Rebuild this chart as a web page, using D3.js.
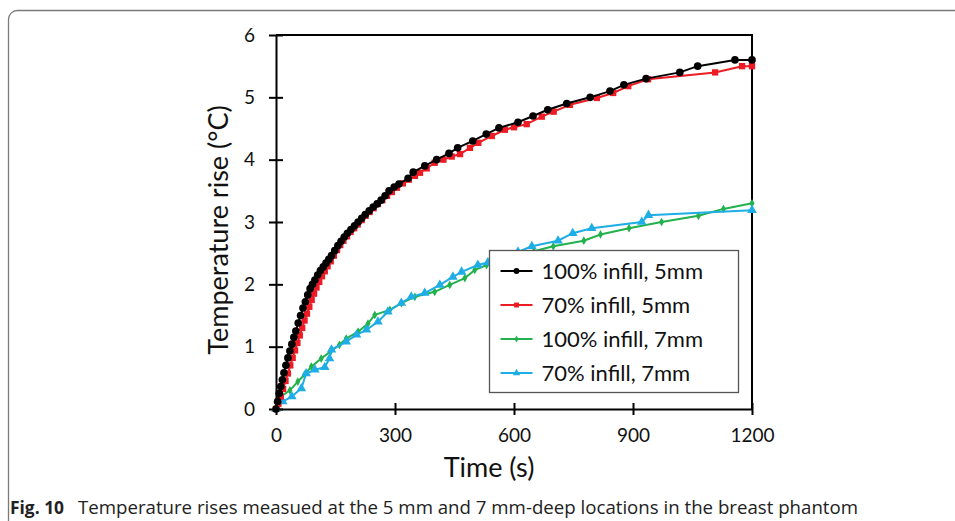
<!DOCTYPE html>
<html>
<head>
<meta charset="utf-8">
<script src="https://cdn.jsdelivr.net/npm/d3@7"></script>
<style>
  body { margin: 0; background: #fff; }
  svg { display: block; }
  .tick text { font-family: Lato, "Open Sans", sans-serif; font-size: 19px; fill: #111; }
</style>
</head>
<body>
<div id="chart"></div>
<script>
// courbes (temps en s, hausse en °C)
const black5Time = [0,4,8,12,16,20,25,30,35,40,45,50,56,62,68,74,80,86,92,98,105,112,119,126,133,140,148,156,164,172,180,189,198,207,216,225,235,245,255,265,275,285,298,310,333,346,375,405,436,458,496,530,562,610,648,685,733,792,842,877,933,1018,1063,1157,1200];
const black5Rise = [0,0.12,0.25,0.36,0.47,0.58,0.7,0.82,0.93,1.04,1.15,1.25,1.38,1.5,1.62,1.72,1.83,1.93,2.0,2.07,2.15,2.22,2.28,2.34,2.4,2.46,2.54,2.62,2.69,2.76,2.82,2.88,2.94,3.0,3.06,3.12,3.18,3.24,3.29,3.35,3.42,3.5,3.56,3.61,3.7,3.8,3.9,4.0,4.1,4.19,4.3,4.41,4.51,4.6,4.7,4.8,4.9,5.0,5.1,5.2,5.3,5.4,5.5,5.6,5.6];

const red5Time = [0,6,12,18,24,30,36,42,48,54,60,66,72,78,84,90,96,102,109,116,123,130,138,146,154,162,170,179,188,197,206,216,226,236,246,257,268,280,292,305,320,335,350,363,380,400,422,443,464,489,510,544,577,600,632,670,700,741,809,850,888,938,1107,1175,1200];
const red5Rise = [0,0.08,0.2,0.32,0.45,0.57,0.7,0.82,0.94,1.06,1.18,1.3,1.42,1.53,1.64,1.75,1.85,1.95,2.04,2.13,2.21,2.29,2.37,2.46,2.55,2.63,2.7,2.77,2.84,2.9,2.96,3.03,3.1,3.16,3.22,3.29,3.35,3.42,3.48,3.55,3.62,3.68,3.74,3.79,3.86,3.95,4.0,4.05,4.09,4.19,4.27,4.38,4.48,4.52,4.57,4.69,4.77,4.88,4.99,5.07,5.18,5.29,5.4,5.5,5.5];

const green7Time = [0,13,35,55,72,89,114,137,160,177,207,232,249,287,316,350,400,438,476,501,531,560,600,650,699,776,818,890,972,1065,1128,1200];
const green7Rise = [0,0.2,0.3,0.44,0.55,0.68,0.81,0.92,1.03,1.13,1.24,1.37,1.51,1.59,1.7,1.8,1.88,1.99,2.1,2.23,2.31,2.38,2.45,2.53,2.61,2.7,2.8,2.9,3.0,3.1,3.21,3.3];

const blue7Time = [0,17,40,64,76,98,123,135,140,177,203,228,257,282,316,341,375,413,446,468,509,534,570,610,645,711,748,796,922,939,1200];
const blue7Rise = [0,0.12,0.2,0.33,0.57,0.63,0.67,0.81,0.95,1.08,1.19,1.27,1.4,1.56,1.7,1.8,1.86,1.99,2.12,2.2,2.31,2.35,2.42,2.52,2.61,2.7,2.82,2.9,3.0,3.11,3.19];

const seriesNames = ["100% infill, 5mm", "70% infill, 5mm", "100% infill, 7mm", "70% infill, 7mm"];
const xTicks = [0, 300, 600, 900, 1200];
const yTicks = [0, 1, 2, 3, 4, 5, 6];

const width = 955;
const height = 521;
const margin = { left: 276, right: 203, top: 35, bottom: 112 };

const series = [
  { name: seriesNames[0], t: black5Time, v: black5Rise, color: "#000000", symbol: d3.symbolCircle, size: 46 },
  { name: seriesNames[1], t: red5Time, v: red5Rise, color: "#ed1c24", symbol: d3.symbolSquare, size: 40 },
  { name: seriesNames[2], t: green7Time, v: green7Rise, color: "#22b14c", symbol: d3.symbolDiamond, size: 22 },
  { name: seriesNames[3], t: blue7Time, v: blue7Rise, color: "#1fade6", symbol: d3.symbolTriangle, size: 40 }
];

const svg = d3.select("#chart").append("svg")
  .attr("width", width)
  .attr("height", height);

// cadre arrondi de la figure
svg.append("rect")
  .attr("x", 8.5).attr("y", 10.5)
  .attr("width", 1100).attr("height", 700)
  .attr("rx", 9)
  .attr("fill", "none")
  .attr("stroke", "#7a7a7a")
  .attr("stroke-width", 1.3);

const x = d3.scaleLinear().domain([0, 1200]).range([margin.left, width - margin.right]);
const y = d3.scaleLinear().domain([0, 6]).range([height - margin.bottom, margin.top]);

// cadre du graphe (haut et droite)
svg.append("path")
  .attr("d", `M${x(0)},${y(6)}H${x(1200)}V${y(0)}`)
  .attr("fill", "none")
  .attr("stroke", "#000")
  .attr("stroke-width", 2);

// axes avec graduations croisées
const xAxis = svg.append("g")
  .attr("transform", `translate(0,${y(0)})`)
  .call(d3.axisBottom(x).tickValues(xTicks).tickFormat(d3.format("d"))
    .tickSizeInner(6).tickSizeOuter(0).tickPadding(14));
xAxis.selectAll(".tick line").attr("y1", -6).attr("stroke-width", 2);
xAxis.select(".domain").attr("stroke-width", 2);

const yAxis = svg.append("g")
  .attr("transform", `translate(${x(0)},0)`)
  .call(d3.axisLeft(y).tickValues(yTicks).tickFormat(d3.format("d"))
    .tickSizeInner(7).tickSizeOuter(0).tickPadding(14));
yAxis.selectAll(".tick line").attr("x1", 7).attr("stroke-width", 2);
yAxis.select(".domain").attr("stroke-width", 2);

// titres des axes
svg.append("text")
  .attr("x", 489).attr("y", 477)
  .attr("text-anchor", "middle")
  .style("font-family", "Lato, 'Open Sans', sans-serif")
  .style("font-size", "27px")
  .style("fill", "#111")
  .text("Time (s)");

svg.append("text")
  .attr("transform", `translate(228,${(y(0) + y(6)) / 2 + 8}) rotate(-90)`)
  .attr("text-anchor", "middle")
  .style("font-family", "Lato, 'Open Sans', sans-serif")
  .style("font-size", "27px")
  .style("fill", "#111")
  .text("Temperature rise (°C)");

// courbes
const line = d3.line().x(d => x(d[0])).y(d => y(d[1]));
const drawOrder = [2, 3, 1, 0];

drawOrder.forEach(i => {
  const s = series[i];
  const pts = s.t.map((t, k) => [t, s.v[k]]);
  const g = svg.append("g");
  g.append("path")
    .datum(pts)
    .attr("d", line)
    .attr("fill", "none")
    .attr("stroke", s.color)
    .attr("stroke-width", 2);
  g.selectAll("path.mark")
    .data(pts)
    .join("path")
    .attr("class", "mark")
    .attr("transform", d => `translate(${x(d[0])},${y(d[1])})`)
    .attr("d", d3.symbol().type(s.symbol).size(s.size))
    .attr("fill", s.color);
});

// légende
const legend = svg.append("g").attr("transform", "translate(489.5,250.5)");
legend.append("rect")
  .attr("width", 249).attr("height", 142)
  .attr("fill", "#fff")
  .attr("stroke", "#555")
  .attr("stroke-width", 1.3);

series.forEach((s, i) => {
  const row = legend.append("g").attr("transform", `translate(0,${20.5 + i * 34})`);
  row.append("line")
    .attr("x1", 11).attr("x2", 43)
    .attr("stroke", s.color).attr("stroke-width", 2);
  row.append("path")
    .attr("transform", "translate(27,0)")
    .attr("d", d3.symbol().type(s.symbol).size(s.size * 0.6))
    .attr("fill", s.color);
  row.append("text")
    .attr("x", 52).attr("y", 8)
    .style("font-family", "Lato, 'Open Sans', sans-serif")
    .style("font-size", "22px")
    .style("fill", "#111")
    .text(s.name);
});

// légende de la figure
const caption = svg.append("text")
  .attr("x", 10).attr("y", 514)
  .style("font-family", "'Open Sans', sans-serif")
  .style("font-size", "18px")
  .style("fill", "#222");
caption.append("tspan")
  .style("font-weight", "bold")
  .attr("textLength", 54)
  .attr("lengthAdjust", "spacingAndGlyphs")
  .text("Fig. 10");
caption.append("tspan")
  .attr("x", 78)
  .attr("textLength", 780)
  .attr("lengthAdjust", "spacingAndGlyphs")
  .text("Temperature rises measued at the 5 mm and 7 mm-deep locations in the breast phantom");
</script>
</body>
</html>
